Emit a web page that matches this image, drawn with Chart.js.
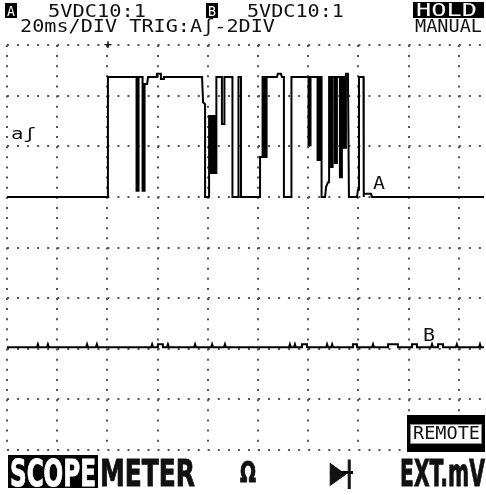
<!DOCTYPE html>
<html>
<head>
<meta charset="utf-8">
<script src="https://cdn.jsdelivr.net/npm/chart.js@4/dist/chart.umd.min.js"></script>
<style>
html,body{margin:0;padding:0;background:#fff;width:486px;height:495px;overflow:hidden}
#wrap{position:relative;width:486px;height:495px}
canvas{position:absolute;left:0;top:0}
.t{position:absolute;white-space:nowrap;line-height:1;font-family:"DejaVu Sans Mono",monospace;font-size:17px;color:#111;transform-origin:0 0}
.w{color:#fff}
.box{position:absolute;background:#000}
.big{font-family:"DejaVu Sans",sans-serif;font-weight:bold;font-size:38px;-webkit-text-stroke:1px currentColor}
</style>
</head>
<body>
<div id="wrap">
<canvas id="scope" width="486" height="495"></canvas>

<!-- header -->
<div class="box" style="left:5px;top:3px;width:12px;height:15px"></div>
<span class="t w" style="left:7px;top:4px;font-size:14px" data-w="8">A</span>
<span class="t" style="left:48px;top:3px" data-w="98">5VDC10:1</span>
<div class="box" style="left:206px;top:3px;width:12px;height:15px"></div>
<span class="t w" style="left:208px;top:4px;font-size:14px" data-w="8">B</span>
<span class="t" style="left:247px;top:3px" data-w="97">5VDC10:1</span>
<div class="box" style="left:413px;top:2px;width:71px;height:16px"></div>
<span class="t w" style="left:416px;top:2px" data-w="61">HOLD</span>
<span class="t" style="left:20px;top:18px" data-w="255">20ms/DIV TRIG:Aʃ-2DIV</span>
<span class="t" style="left:415px;top:18px" data-w="67">MANUAL</span>
<span class="t" style="left:104px;top:38px;font-size:13px;font-weight:bold" data-w="8">+</span>

<!-- trace labels -->
<span class="t" style="left:11px;top:127px;font-size:15px" data-w="25">aʃ</span>
<span class="t" style="left:373px;top:175px" data-w="12">A</span>
<span class="t" style="left:423px;top:327px" data-w="12">B</span>

<!-- remote -->
<div class="box" style="left:407px;top:415px;width:78px;height:37px"></div>
<div style="position:absolute;left:410px;top:424px;width:72px;height:20px;background:#fff;border:1px solid #888;box-sizing:border-box"></div>
<span class="t" style="left:413px;top:425px" data-w="67">REMOTE</span>

<!-- menu -->
<div class="box" style="left:8px;top:455px;width:90px;height:33px"></div>
<span class="t big w" style="left:10px;top:454px" data-w="86">SCOPE</span>
<span class="t big" style="left:100px;top:454px" data-w="95">METER</span>
<span class="t big" style="left:240px;top:458px;font-size:29px" data-w="16">Ω</span>
<span class="t big" style="left:330px;top:458px;font-size:29px;background:linear-gradient(#000,#000) 0 50%/100% 3px no-repeat" data-w="23">▶|</span>
<span class="t big" style="left:400px;top:454px" data-w="85">EXT.mV</span>
</div>

<script>
// trace A: [time ms, level in divisions]
const traceA = [
  [0,1.0],[40.2,1.0],[40.2,3.37],[51.6,3.37],[51.6,1.12],[52.4,1.12],[52.4,3.37],
  [54.0,3.37],[54.0,1.12],[54.8,1.12],[54.8,3.23],[55.8,3.23],[56.2,3.37],
  [59.7,3.37],[59.7,3.43],[61.3,3.43],[61.3,3.33],[62.5,3.33],[62.5,3.37],
  [77.7,3.37],[78.1,2.87],[78.9,2.83],[78.9,1.0],[80.5,1.0],[80.5,2.6],
  [81.3,2.6],[81.3,1.47],[82.1,1.47],[82.1,2.6],[82.9,2.6],[82.9,1.47],[83.4,1.47],[83.4,3.37],
  [85.6,3.37],[85.6,2.44],[86.6,2.44],[86.6,3.37],[89.8,3.37],[89.8,1.0],
  [92.2,1.0],[92.2,3.37],[93.2,3.37],[93.2,1.0],[100.8,1.0],[100.8,1.79],
  [101.8,1.79],[101.8,3.37],[102.6,3.37],[102.6,1.79],[103.4,1.79],[103.4,3.37],
  [107.5,3.37],[107.9,3.43],[109.1,3.43],[109.5,3.37],[110.3,3.37],[110.3,1.0],
  [113.3,1.0],[113.3,3.37],[120.1,3.37],[120.1,2.02],[120.9,2.02],[120.9,3.37],
  [123.7,3.37],[123.7,1.73],[124.5,1.73],[124.5,3.37],[125.3,3.37],[125.3,1.0],
  [126.7,1.0],[127.1,1.2],[127.9,1.29],[128.3,1.29],[128.3,3.37],
  [128.9,3.37],[128.9,1.59],[129.7,1.59],[129.7,3.37],[130.6,3.37],[130.6,1.67],[131.4,1.67],[131.4,3.37],
  [132.6,3.37],[132.6,1.39],[133.4,1.39],[133.4,3.37],[134.2,3.37],[134.2,1.97],[135.0,1.97],[135.0,3.43],
  [135.8,3.43],[136.2,1.0],[139.4,1.0],[139.8,1.14],[140.2,1.14],[140.2,3.37],
  [142.0,3.37],[142.0,1.0],[142.2,1.06],[145.0,1.06],[145.4,1.0],[190,1.0]
];
// trace B: flat line with small pips
const traceB = [
  [0,-1.97],
  [11.9,-1.97],[12.3,-1.91],[12.7,-1.97],
  [15.9,-1.97],[16.3,-1.91],[16.7,-1.97],
  [31.5,-1.97],[31.9,-1.91],[32.3,-1.97],
  [35.4,-1.97],[35.8,-1.91],[36.2,-1.97],
  [57.4,-1.97],[57.8,-1.91],[58.2,-1.97],
  [60.1,-1.97],[60.1,-1.91],[62.1,-1.91],[62.1,-1.97],
  [63.7,-1.97],[64.1,-1.91],[64.5,-1.97],
  [74.5,-1.97],[74.9,-1.91],[75.3,-1.97],
  [81.3,-1.97],[81.7,-1.91],[82.1,-1.97],
  [86.4,-1.97],[86.8,-1.91],[87.2,-1.97],
  [112.3,-1.97],[112.7,-1.91],[113.1,-1.97],
  [114.3,-1.97],[114.7,-1.91],[115.1,-1.97],
  [117.5,-1.97],[117.5,-1.91],[119.5,-1.91],[119.5,-1.97],
  [127.1,-1.97],[127.5,-1.91],[127.9,-1.97],
  [129.1,-1.97],[129.5,-1.91],[129.9,-1.97],
  [137.8,-1.97],[137.8,-1.91],[139.4,-1.91],[139.4,-1.97],
  [145.4,-1.97],[145.8,-1.91],[146.2,-1.97],
  [151.8,-1.97],[151.8,-1.91],[155.7,-1.91],[155.7,-1.97],
  [161.3,-1.97],[161.3,-1.91],[163.3,-1.91],[163.3,-1.97],
  [168.9,-1.97],[169.3,-1.91],[169.7,-1.97],
  [171.7,-1.97],[171.7,-1.91],[173.7,-1.91],[173.7,-1.97],
  [178.8,-1.97],[179.2,-1.91],[179.6,-1.97],
  [188.0,-1.97],[188.4,-1.91],[188.8,-1.97],
  [190,-1.97]
];
const msPerDiv = 20, timeSpan = [0,190];
const divRange = [-4,4];

// squeeze text into its box
document.querySelectorAll('.t[data-w]').forEach(el=>{
  const w=el.getBoundingClientRect().width;
  if(w>0)el.style.transform='scaleX('+(el.dataset.w/w)+')';
});

const pts=a=>a.map(([x,y])=>({x,y}));
const trace=d=>({data:pts(d),borderColor:'#000',borderWidth:2,pointRadius:0,tension:0,fill:false});
new Chart(document.getElementById('scope'),{
  type:'line',
  data:{datasets:[trace(traceA),trace(traceB)]},
  options:{
    responsive:false,animation:false,events:[],
    layout:{padding:{left:7,right:2,top:45,bottom:45}},
    plugins:{legend:{display:false},tooltip:{enabled:false}},
    scales:{
      x:{type:'linear',min:timeSpan[0],max:timeSpan[1],
        ticks:{display:false,stepSize:msPerDiv,includeBounds:false},
        grid:{color:'#555',lineWidth:2,drawTicks:false},
        border:{display:false,dash:[2,8.12]}},
      y:{type:'linear',min:divRange[0],max:divRange[1],
        ticks:{display:false,stepSize:1},
        grid:{color:'#555',lineWidth:2,drawTicks:false},
        border:{display:false,dash:[2,8.04]}}
    }
  }
});
</script>
</body>
</html>
